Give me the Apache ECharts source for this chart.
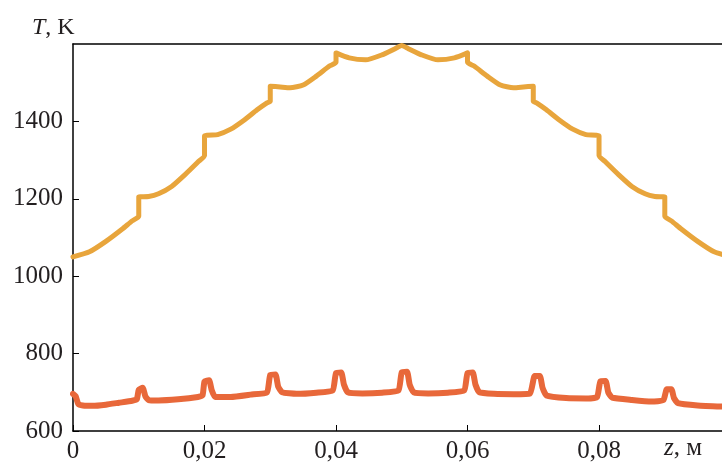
<!DOCTYPE html>
<html>
<head>
<meta charset="utf-8">
<script src="https://cdn.jsdelivr.net/npm/echarts@6/dist/echarts.min.js"></script>
<style>
html,body{margin:0;padding:0;background:#fff;}
#c{width:722px;height:464px;}
</style>
</head>
<body>
<div id="c"></div>
<script>
// x tick labels / ranges
var xTicks = [0, 0.02, 0.04, 0.06, 0.08];
var yTicks = [600, 800, 1000, 1200, 1400];

// upper curve (z, T)
var upperZ = [0, 0.0025, 0.005, 0.0075, 0.009, 0.01, 0.01, 0.0115, 0.013, 0.015, 0.017, 0.019, 0.02, 0.02, 0.022, 0.024, 0.026, 0.028, 0.0295, 0.03, 0.03, 0.0315, 0.033, 0.035, 0.037, 0.039, 0.04, 0.04, 0.042, 0.0445, 0.047, 0.049, 0.05,
  0.051, 0.053, 0.0555, 0.058, 0.06, 0.06, 0.061, 0.063, 0.065, 0.067, 0.0685, 0.07, 0.07, 0.0705, 0.072, 0.074, 0.076, 0.078, 0.08, 0.08, 0.081, 0.083, 0.085, 0.087, 0.0885, 0.09, 0.09, 0.091, 0.0925, 0.095, 0.0975, 0.1];
var upperT = [1050, 1063, 1090, 1122, 1143, 1155, 1205, 1206, 1213, 1232, 1262, 1295, 1312, 1362, 1366, 1380, 1403, 1430, 1448, 1452, 1491, 1489, 1487, 1494, 1517, 1543, 1553, 1577, 1564, 1559, 1572, 1588, 1596,
  1588, 1572, 1559, 1564, 1577, 1553, 1543, 1517, 1494, 1487, 1489, 1491, 1452, 1448, 1430, 1403, 1380, 1366, 1362, 1312, 1295, 1262, 1232, 1213, 1206, 1205, 1155, 1143, 1122, 1090, 1063, 1050];

// lower curve (z, T)
var lowerZ = [0, 0.0004, 0.0008, 0.0015, 0.003, 0.005, 0.007, 0.009, 0.0097, 0.0100, 0.0106, 0.0110, 0.0115, 0.013, 0.016, 0.019, 0.0197, 0.020, 0.0207, 0.0211, 0.0216, 0.024, 0.027, 0.0295, 0.030, 0.0308, 0.0312, 0.0318, 0.034, 0.037, 0.0395, 0.040, 0.0408, 0.0412, 0.0418, 0.044, 0.047, 0.0495, 0.050, 0.0508, 0.0512, 0.0518, 0.054, 0.057, 0.0595, 0.060, 0.0608, 0.0612, 0.0618, 0.064, 0.067, 0.0695, 0.0702, 0.071, 0.0714, 0.072, 0.075, 0.078, 0.0797, 0.0802, 0.081, 0.0814, 0.082, 0.085, 0.088, 0.0898, 0.0903, 0.091, 0.0914, 0.092, 0.095, 0.0987];
var lowerT = [696, 690, 670, 666, 665, 668, 673, 678, 682, 706, 712, 690, 680, 679, 682, 688, 692, 728, 731, 705, 688, 688, 694, 700, 745, 746, 715, 700, 696, 699, 705, 750, 751, 720, 700, 697, 699, 705, 752, 753, 720, 700, 697, 699, 705, 750, 751, 720, 700, 696, 695, 697, 742, 742, 712, 692, 685, 684, 688, 728, 729, 700, 686, 680, 676, 680, 708, 708, 685, 672, 666, 663];

function zip(a, b) { return a.map(function (v, i) { return [v, b[i]]; }); }

var FONT = '"Liberation Serif", "Times New Roman", serif';
var TXT = '#231f20';

var chart = echarts.init(document.getElementById('c'), null, {renderer: 'canvas'});
chart.setOption({
  animation: false,
  backgroundColor: '#ffffff',
  grid: {left: 73, right: 0, top: 44, bottom: 32, containLabel: false},
  xAxis: [{
    type: 'value', min: 0, max: 0.0987, interval: 0.02,
    axisLine: {show: true, onZero: false, lineStyle: {color: '#000', width: 1.5}},
    axisTick: {show: true, inside: true, length: 6, lineStyle: {color: '#000', width: 1}},
    splitLine: {show: false},
    axisLabel: {
      showMaxLabel: false, margin: 8,
      fontFamily: FONT, fontSize: 25, color: TXT,
      formatter: function (v) { return String(v).replace('.', ','); }
    }
  }, {
    type: 'value', position: 'top', min: 0, max: 0.0987,
    axisLine: {show: true, onZero: false, lineStyle: {color: '#000', width: 1.5}},
    axisTick: {show: false}, axisLabel: {show: false}, splitLine: {show: false}
  }],
  yAxis: {
    type: 'value', min: 600, max: 1600, interval: 200,
    axisLine: {show: true, onZero: false, lineStyle: {color: '#000', width: 1.5}},
    axisTick: {show: true, inside: true, length: 6, lineStyle: {color: '#000', width: 1}},
    splitLine: {show: false},
    axisLabel: {showMaxLabel: false, margin: 10, fontFamily: FONT, fontSize: 25, color: TXT,
      formatter: function (v) { return String(v); }}
  },
  series: [{
    type: 'line', xAxisIndex: 0, data: zip(upperZ, upperT),
    showSymbol: false, smooth: 0.2,
    lineStyle: {color: '#E8A53C', width: 5, join: 'round', cap: 'round'}
  }, {
    type: 'line', xAxisIndex: 0, data: zip(lowerZ, lowerT),
    showSymbol: false, smooth: 0.15,
    lineStyle: {color: '#E8683A', width: 6, join: 'round', cap: 'round'}
  }],
  graphic: [{
    type: 'text', x: 32, y: 28,
    style: {
      text: '{i|T}, K', verticalAlign: 'middle', align: 'left',
      fontFamily: FONT, fontSize: 24, fill: TXT,
      rich: {i: {fontFamily: FONT, fontSize: 24, fontStyle: 'italic', fill: TXT}}
    }
  }, {
    type: 'text', x: 664, y: 448,
    style: {
      text: '{i|z}, м', verticalAlign: 'middle', align: 'left',
      fontFamily: FONT, fontSize: 25, fill: TXT,
      rich: {i: {fontFamily: FONT, fontSize: 25, fontStyle: 'italic', fill: TXT}}
    }
  }]
});
</script>
</body>
</html>
